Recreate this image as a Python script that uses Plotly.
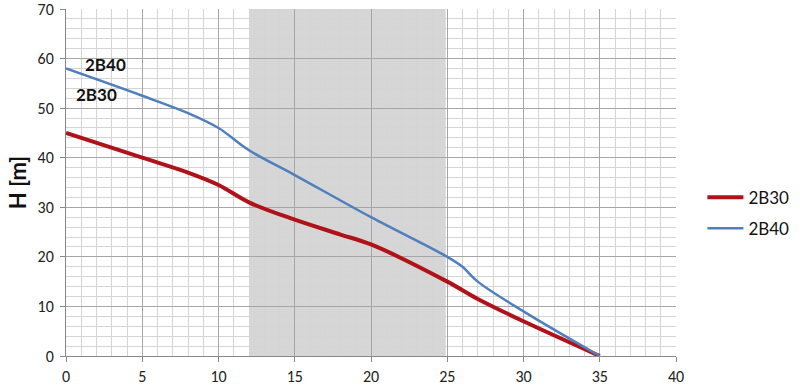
import plotly.graph_objects as go

x_2b30 = [0, 5, 8, 10, 12, 15, 18, 20, 25, 27, 30, 35]
h_2b30 = [45, 40, 37, 34.5, 31, 27.5, 24.5, 22.5, 15, 11.5, 7, 0]
x_2b40 = [0, 5, 8, 10, 12, 15, 20, 25, 26, 27, 30, 35]
h_2b40 = [58, 52.5, 49, 46, 41.5, 36.5, 28, 20, 18, 15, 9, 0]
band = [12, 24.9]

fig = go.Figure()
fig.add_trace(go.Scatter(x=x_2b30, y=h_2b30, mode="lines", name="2B30", legendgroup="a",
                         line=dict(color="#b0121a", width=4, shape="spline", smoothing=1.0)))
fig.add_trace(go.Scatter(x=x_2b40, y=h_2b40, mode="lines", name="2B40", legendgroup="b",
                         line=dict(color="#4f7fbd", width=2.5, shape="spline", smoothing=1.0)))

fig.add_shape(type="rect", xref="x", yref="y", x0=band[0], x1=band[1], y0=0, y1=70,
              fillcolor="#d6d6d6", line=dict(width=0), layer="below")

lab_font = dict(family="Lato, Open Sans, sans-serif", size=17, color="#111")
fig.add_annotation(x=2.6, y=58.8, text="<b>2B40</b>", showarrow=False, font=lab_font)
fig.add_annotation(x=2.0, y=52.8, text="<b>2B30</b>", showarrow=False, font=lab_font)

axis_common = dict(showline=True, linecolor="#888", linewidth=1, ticks="outside",
                   ticklen=5, tickcolor="#888", gridcolor="#a6a6a6", gridwidth=1,
                   zeroline=False, automargin=False, ticklabeloverflow="allow",
                   tickfont=dict(family="Carlito, Liberation Sans, Arial", size=16, color="#222"))

fig.update_xaxes(range=[0, 40], dtick=5, showgrid=True, ticklabelstandoff=1,
                 minor=dict(dtick=1, showgrid=True, gridcolor="#d4d4d4", gridwidth=1),
                 **axis_common)
fig.update_yaxes(range=[0, 70], dtick=10, showgrid=True, ticklabelstandoff=3,
                 minor=dict(dtick=2, showgrid=True, gridcolor="#d4d4d4", gridwidth=1),
                 title=dict(text="<b>H [m]</b>", font=dict(family="Lato, Open Sans, sans-serif", size=22, color="#111"), standoff=4),
                 **axis_common)

fig.update_layout(
    width=800, height=391,
    margin=dict(l=66, r=124, t=9, b=35),
    plot_bgcolor="white", paper_bgcolor="white",
    legend=dict(xref="container", yref="container", x=0.878, y=0.455, yanchor="middle", xanchor="left",
                font=dict(family="Lato, Open Sans, sans-serif", size=17, color="#111"),
                tracegroupgap=6, itemwidth=36, traceorder="grouped"),
    showlegend=True,
)

fig.write_html("out.html")
